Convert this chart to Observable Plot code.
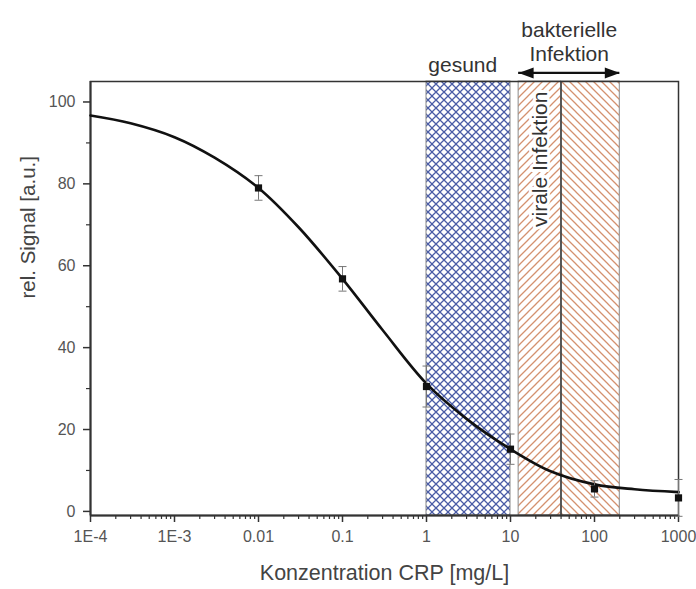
<!DOCTYPE html>
<html>
<head>
<meta charset="utf-8">
<script src="https://cdn.jsdelivr.net/npm/d3@7"></script>
<script src="https://cdn.jsdelivr.net/npm/@observablehq/plot@0.6"></script>
<style>
  html, body { margin: 0; padding: 0; background: #fff; }
  svg { display: block; }
</style>
</head>
<body>
<div id="chart"></div>
<script>
// Measured points (concentration, signal, error)
const pointConc = [0.01, 0.1, 1, 10, 100, 1000];
const pointSignal = [79.0, 56.8, 30.5, 15.2, 5.5, 3.3];
const pointError = [3.0, 3.0, 5.0, 3.7, 2.0, 4.5];

// Fit curve
const curveConc = [1e-4, 3e-4, 1e-3, 3e-3, 0.01, 0.03, 0.1, 0.3, 1, 3, 10, 30, 100, 300, 1000];
const curveSignal = [96.7, 94.8, 91.4, 86.4, 79.0, 69.4, 56.8, 44.3, 31.2, 22.6, 15.2, 9.8, 6.6, 5.4, 4.7];

// Ranges
const bandNames = ["gesund", "virale Infektion", "bakterielle Infektion"];
const bandStart = [1, 12.5, 40];
const bandEnd = [10, 40, 200];

// Tick values and labels
const xTickValues = [1e-4, 1e-3, 0.01, 0.1, 1, 10, 100, 1000];
const xTickLabels = ["1E-4", "1E-3", "0.01", "0.1", "1", "10", "100", "1000"];
const yTickValues = [0, 20, 40, 60, 80, 100];
const yMinorValues = [10, 30, 50, 70, 90];

const xMinor = [];
for (let e = -4; e < 3; e++) for (let m = 2; m <= 9; m++) xMinor.push(m * Math.pow(10, e));

const points = pointConc.map((x, i) => ({x, y: pointSignal[i], e: pointError[i]}));
const curve = curveConc.map((x, i) => ({x, y: curveSignal[i]}));
const bands = bandNames.map((name, i) => ({name, x1: bandStart[i], x2: bandEnd[i]}));

const capSymbol = {draw(ctx) { ctx.moveTo(-4, 0); ctx.lineTo(4, 0); }};
const headRight = {draw(ctx) { ctx.moveTo(0, 0); ctx.lineTo(-15, -5.5); ctx.lineTo(-15, 5.5); ctx.closePath(); }};
const headLeft = {draw(ctx) { ctx.moveTo(0, 0); ctx.lineTo(15, -5.5); ctx.lineTo(15, 5.5); ctx.closePath(); }};
const squareSym = {draw(ctx) { ctx.rect(-3.6, -3.6, 7.2, 7.2); }};

const fillFor = ["url(#crossBlue)", "url(#hatchUp)", "url(#hatchDown)"];

const chart = Plot.plot({
  width: 696,
  height: 589,
  marginTop: 81,
  marginBottom: 74,
  marginLeft: 90,
  marginRight: 18,
  style: {fontFamily: "'Liberation Sans', Arial, sans-serif", fontSize: "16px", color: "#444", background: "white"},
  x: {type: "log", domain: [1e-4, 1000], axis: null},
  y: {domain: [-1, 105], axis: null},
  marks: [
    ...bands.map((b, i) => Plot.rect([b], {x1: "x1", x2: "x2", fill: fillFor[i], stroke: "#8a8a8a", strokeWidth: 1})),
    Plot.ruleX([bandStart[2]], {stroke: "#444", strokeWidth: 1.6}),
    Plot.text([bandNames[1]], {x: () => Math.sqrt(bandStart[1] * bandEnd[1]), y: () => 86, rotate: -90, fontSize: 21, fill: "#333", stroke: "white", strokeWidth: 6, paintOrder: "stroke"}),
    Plot.frame({stroke: "#333", strokeWidth: 1.5}),
    Plot.ruleX([1e-4], {stroke: "#333", strokeWidth: 2}),
    Plot.ruleY([-1], {stroke: "#333", strokeWidth: 2}),
    // axes
    Plot.axisX(xTickValues, {anchor: "bottom", tickSize: 7, tickPadding: 8, tickFormat: (d) => xTickLabels[xTickValues.indexOf(d)], fontSize: 16, stroke: "#333", strokeWidth: 1.5, fill: "#555", label: null}),
    Plot.axisX(xMinor, {anchor: "bottom", tickSize: 4, text: null, stroke: "#333", strokeWidth: 1.2, label: null}),
    Plot.axisY(yTickValues, {anchor: "left", tickSize: 7, tickPadding: 8, fontSize: 16, stroke: "#333", strokeWidth: 1.5, fill: "#555", label: null}),
    Plot.axisY(yMinorValues, {anchor: "left", tickSize: 4, text: null, stroke: "#333", strokeWidth: 1.2, label: null}),
    Plot.text(["Konzentration CRP [mg/L]"], {frameAnchor: "bottom", dy: 64, fontSize: 21.5, fill: "#444"}),
    Plot.text(["rel. Signal [a.u.]"], {frameAnchor: "left", dx: -62, rotate: -90, fontSize: 20.5, fill: "#444"}),
    // curve
    Plot.line(curve, {x: "x", y: "y", curve: "catmull-rom", stroke: "#111", strokeWidth: 2.6}),
    // error bars
    Plot.ruleX(points, {x: "x", y1: d => d.y - d.e, y2: d => d.y + d.e, stroke: "#777", strokeWidth: 1}),
    Plot.dot(points, {x: "x", y: d => d.y + d.e, symbol: capSymbol, stroke: "#777", strokeWidth: 1, fill: "none"}),
    Plot.dot(points, {x: "x", y: d => d.y - d.e, symbol: capSymbol, stroke: "#777", strokeWidth: 1, fill: "none"}),
    Plot.dot(points, {x: "x", y: "y", symbol: squareSym, fill: "#111", stroke: "none"}),
    // annotations above the frame
    Plot.text([bandNames[0]], {x: () => 2.7, y: () => 108.9, fontSize: 21, fill: "#333"}),
    Plot.text(["bakterielle"], {x: () => 50, y: () => 117.4, fontSize: 21, fill: "#333"}),
    Plot.text(["Infektion"], {x: () => 50, y: () => 111.6, fontSize: 21, fill: "#333"}),
    Plot.ruleY([107.1], {x1: bandStart[1], x2: bandEnd[2], stroke: "#111", strokeWidth: 2.2}),
    Plot.dot([0], {x: () => bandEnd[2], y: () => 107.1, symbol: headRight, fill: "#111", stroke: "none"}),
    Plot.dot([0], {x: () => bandStart[1], y: () => 107.1, symbol: headLeft, fill: "#111", stroke: "none"})
  ]
});

const ns = "http://www.w3.org/2000/svg";
const defs = document.createElementNS(ns, "defs");
defs.innerHTML = `
  <pattern id="crossBlue" patternUnits="userSpaceOnUse" width="8" height="8">
    <rect width="8" height="8" fill="white"/>
    <path d="M-1,-1 L9,9 M9,-1 L-1,9" stroke="#4a5ca6" stroke-width="1.3" fill="none"/>
  </pattern>
  <pattern id="hatchUp" patternUnits="userSpaceOnUse" width="8" height="8">
    <rect width="8" height="8" fill="white"/>
    <path d="M-1,9 L9,-1 M-1,1 L1,-1 M7,9 L9,7" stroke="#d4916f" stroke-width="1.3" fill="none"/>
  </pattern>
  <pattern id="hatchDown" patternUnits="userSpaceOnUse" width="8" height="8">
    <rect width="8" height="8" fill="white"/>
    <path d="M-1,-1 L9,9 M-1,7 L1,9 M7,-1 L9,1" stroke="#d4916f" stroke-width="1.3" fill="none"/>
  </pattern>`;
chart.insertBefore(defs, chart.firstChild);
document.getElementById("chart").appendChild(chart);
</script>
</body>
</html>
